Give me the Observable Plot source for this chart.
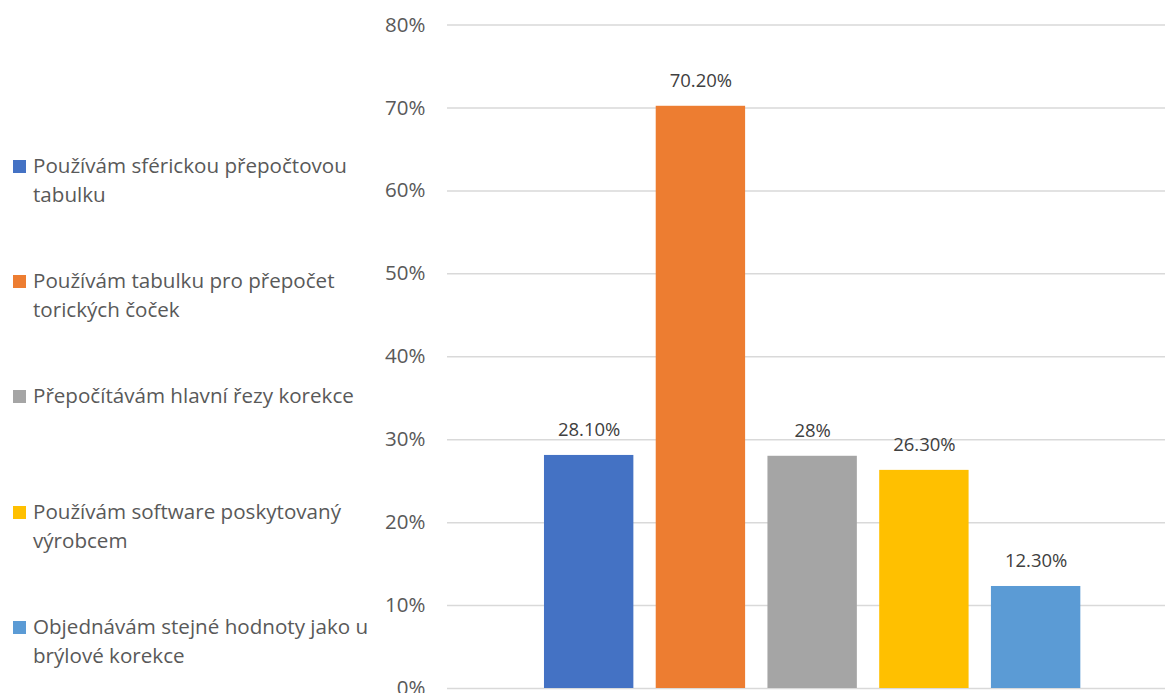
<!DOCTYPE html>
<html>
<head>
<meta charset="utf-8">
<script src="https://cdn.jsdelivr.net/npm/d3@7"></script>
<script src="https://cdn.jsdelivr.net/npm/@observablehq/plot@0.6"></script>
<style>
  html, body { margin: 0; padding: 0; background: #fff; overflow: hidden; }
  #wrap { position: relative; width: 1165px; height: 693px; font-family: "Open Sans", sans-serif; }
  #legend { position: absolute; left: 0; top: 0; }
  .item { position: absolute; left: 13px; width: 370px; font-size: 20.6px; line-height: 29px; color: #595959; }
  .sw { position: absolute; left: 0; top: 9px; width: 13px; height: 13px; }
  .txt { position: absolute; left: 20px; white-space: nowrap; }
  svg { position: absolute; left: 0; top: 0; overflow: visible; }
</style>
</head>
<body>
<div id="wrap"><div id="legend"></div></div>
<script>
const categories = [
  "Používám sférickou přepočtovou tabulku",
  "Používám tabulku pro přepočet torických čoček",
  "Přepočítávám hlavní řezy korekce",
  "Používám software poskytovaný výrobcem",
  "Objednávám stejné hodnoty jako u brýlové korekce"
];
const legendLines = [
  ["Používám sférickou přepočtovou", "tabulku"],
  ["Používám tabulku pro přepočet", "torických čoček"],
  ["Přepočítávám hlavní řezy korekce"],
  ["Používám software poskytovaný", "výrobcem"],
  ["Objednávám stejné hodnoty jako u", "brýlové korekce"]
];
const values = [28.1, 70.2, 28, 26.3, 12.3];
const valueLabels = ["28.10%", "70.20%", "28%", "26.30%", "12.30%"];
const colors = ["#4472C4", "#ED7D31", "#A5A5A5", "#FFC000", "#5B9BD5"];
const yTicks = [0, 10, 20, 30, 40, 50, 60, 70, 80];
const legendTops = [151, 266, 381, 497, 612];

const data = categories.map((c, i) => ({category: c, value: values[i], label: valueLabels[i]}));

const chart = Plot.plot({
  width: 1165,
  height: 693,
  marginTop: 24.5,
  marginBottom: 5,
  marginLeft: 447,
  marginRight: 0,
  style: {fontFamily: "'Open Sans', sans-serif", fontSize: "20.5px", color: "#595959", background: "transparent"},
  x: {domain: categories, range: [532.8, 1091.5], paddingInner: 0.2, paddingOuter: 0.1, round: false, axis: null},
  y: {domain: [0, 80], ticks: yTicks, tickFormat: d => d + "%", tickSize: 0, tickPadding: 22, label: null},
  color: {domain: categories, range: colors},
  marks: [
    Plot.gridY(yTicks, {stroke: "#d9d9d9", strokeOpacity: 1, strokeWidth: 1.5}),
    Plot.barY(data, {x: "category", y: "value", fill: "category"}),
    Plot.text(data, {x: "category", y: "value", text: "label", dy: -25, fill: "#404040", fontSize: 18.5})
  ]
});
document.getElementById("wrap").appendChild(chart);

const legend = document.getElementById("legend");
categories.forEach((c, i) => {
  const item = document.createElement("div");
  item.className = "item";
  item.style.top = legendTops[i] + "px";
  const sw = document.createElement("div");
  sw.className = "sw";
  sw.style.background = colors[i];
  item.appendChild(sw);
  const txt = document.createElement("div");
  txt.className = "txt";
  txt.innerHTML = legendLines[i].join("<br>");
  item.appendChild(txt);
  legend.appendChild(item);
});
</script>
</body>
</html>
